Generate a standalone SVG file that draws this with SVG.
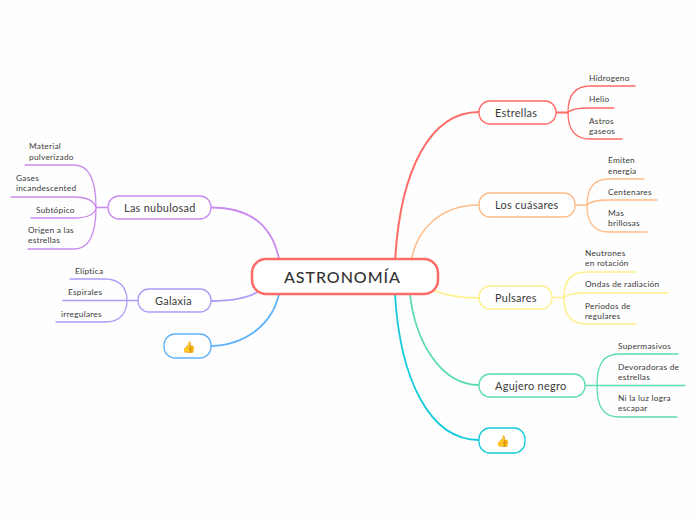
<svg xmlns="http://www.w3.org/2000/svg" width="696" height="520" viewBox="0 0 696 520">
<style>
text{font-family:"Lato","Noto Sans",sans-serif;fill:#3a3a3a}
.sub{font-size:8.3px;letter-spacing:.25px}
.main{font-size:10.9px;letter-spacing:.3px}
.root{font-size:16px;letter-spacing:.95px;font-weight:500;fill:#333}
.emoji{font-size:11px;font-family:"Noto Color Emoji","Noto Sans",sans-serif}
rect{fill:#fff;stroke-width:1.3}
path{fill:none;stroke-width:1.3;stroke-linecap:round}
.red{stroke:#ff6b66}.org{stroke:#ffbb88}.yel{stroke:#fff08a}.grn{stroke:#5bdcb0}.cyn{stroke:#14cbdc}.pur{stroke:#c98bee}.vio{stroke:#ab9cf8}.blu{stroke:#5fb2fa}
</style>
<rect x="0" y="0" width="696" height="520" style="fill:#fefefe;stroke:none"/>
<g id="connectors">
<path class="red" style="stroke-width:2" d="M395 262C400 170 430 112 479 112"/>
<path class="org" style="stroke-width:1.6" d="M411 262C416 230 440 205 479 205"/>
<path class="yel" style="stroke-width:1.8" d="M435 291C448 296 462 298 479 298"/>
<path class="grn" style="stroke-width:1.8" d="M410 294C415 340 440 385 479 385"/>
<path class="cyn" style="stroke-width:1.8" d="M395 294C400 380 430 440 479 440"/>
<path class="pur" style="stroke-width:1.8" d="M211 207.500C250 207.500 272 225 279 259"/>
<path class="vio" style="stroke-width:1.8" d="M211 301C235 301 250 297 259 291"/>
<path class="blu" style="stroke-width:1.8" d="M211 346C245 345 272 325 279 294"/>

<path class="red" style="stroke-width:1.800" d="M556 112.500H568"/>
<path class="red" d="M568 112.500C568 95 575 86 590 86H635M568 112.500C571 109 578 108 590 108H614M568 112.500C568 130 575 139 590 139H622"/>
<path class="org" d="M575 205H587M587 205C587 188 594 179 609 179H644M587 205C590 201.500 597 200 609 200H657M587 205C587 223 594 232 609 232H647"/>
<path class="yel" style="stroke-width:1.500" d="M552 297.500H564M564 297.500C564 281 571 272 586 272H636M564 297.500C567 294.500 574 293 586 293H668M564 297.500C564 315 571 324 586 324H636"/>
<path class="grn" d="M585 385.500H597M597 385.500C597 363 604 354 619 354H678M597 385.500H685M597 385.500C597 408 604 417 619 417H677"/>
<path class="pur" d="M108 207.500H96M96 207.500C96 179 89 165 74 165H25M96 207.500C94 201 87 197 74 197H11M96 207.500C95 214 88 218 74 218H31M96 207.500C96 235 89 249 74 249H28"/>
<path class="vio" d="M138 300.500H127M127 300.500C127 288 120 279 105 279H70M127 300.500H63M127 300.500C127 313 120 322 105 322H56"/>
</g>
<g id="root"><rect x="252" y="259" width="186" height="35" rx="14" style="stroke:#ff6b66;stroke-width:2.500"/><text class="root" x="284" y="283">ASTRONOMÍA</text></g>

<g id="estrellas"><rect class="red" x="479" y="101" width="77" height="23" rx="11"/><text class="main" x="495" y="116.500">Estrellas</text></g>
<g id="hidrogeno"><text class="sub" x="589" y="81">Hidrogeno</text></g>
<g id="helio"><text class="sub" x="589" y="102">Helio</text></g>
<g id="astros"><text class="sub" x="589" y="124">Astros</text><text class="sub" x="589" y="134">gaseos</text></g>

<g id="cuasares"><rect class="org" x="479" y="193" width="96" height="24" rx="11"/><text class="main" x="495" y="209">Los cuásares</text></g>
<g id="emiten"><text class="sub" x="608" y="163">Emiten</text><text class="sub" x="608" y="174">energía</text></g>
<g id="centenares"><text class="sub" x="608" y="195">Centenares</text></g>
<g id="mas"><text class="sub" x="608" y="216">Mas</text><text class="sub" x="608" y="226">brillosas</text></g>

<g id="pulsares"><rect class="yel" x="479" y="286" width="73" height="23" rx="11"/><text class="main" x="495" y="301.500">Pulsares</text></g>
<g id="neutrones"><text class="sub" x="585" y="256">Neutrones</text><text class="sub" x="585" y="266">en rotación</text></g>
<g id="ondas"><text class="sub" x="585" y="287">Ondas de radiación</text></g>
<g id="periodos"><text class="sub" x="585" y="309">Periodos de</text><text class="sub" x="585" y="319">regulares</text></g>

<g id="agujero"><rect class="grn" x="479" y="374" width="106" height="23" rx="11"/><text class="main" x="495" y="389.500">Agujero negro</text></g>
<g id="supermasivos"><text class="sub" x="618" y="349">Supermasivos</text></g>
<g id="devoradoras"><text class="sub" x="618" y="370">Devoradoras de</text><text class="sub" x="618" y="380">estrellas</text></g>
<g id="niluz"><text class="sub" x="618" y="401">Ni la luz logra</text><text class="sub" x="618" y="411">escapar</text></g>

<g id="thumb-right"><rect class="cyn" x="479" y="428" width="46" height="25" rx="11"/><text class="emoji" x="496" y="445">👍</text></g>

<g id="nubulosad"><rect class="pur" x="108" y="196" width="103" height="23" rx="11"/><text class="main" x="124" y="211.500">Las nubulosad</text></g>
<g id="material"><text class="sub" x="29" y="149">Material</text><text class="sub" x="29" y="160">pulverizado</text></g>
<g id="gases"><text class="sub" x="16" y="181">Gases</text><text class="sub" x="16" y="191">incandescented</text></g>
<g id="subtopico"><text class="sub" x="36" y="213">Subtópico</text></g>
<g id="origen"><text class="sub" x="28" y="233">Origen a las</text><text class="sub" x="28" y="243">estrellas</text></g>

<g id="galaxia"><rect class="vio" x="138" y="289" width="73" height="23" rx="11"/><text class="main" x="155" y="304.500">Galaxia</text></g>
<g id="eliptica"><text class="sub" x="75" y="274">Elíptica</text></g>
<g id="espirales"><text class="sub" x="68" y="295">Espirales</text></g>
<g id="irregulares"><text class="sub" x="61" y="317">irregulares</text></g>

<g id="thumb-left"><rect class="blu" x="164" y="334" width="47" height="24" rx="11"/><text class="emoji" x="182" y="350.500">👍</text></g>
</svg>
